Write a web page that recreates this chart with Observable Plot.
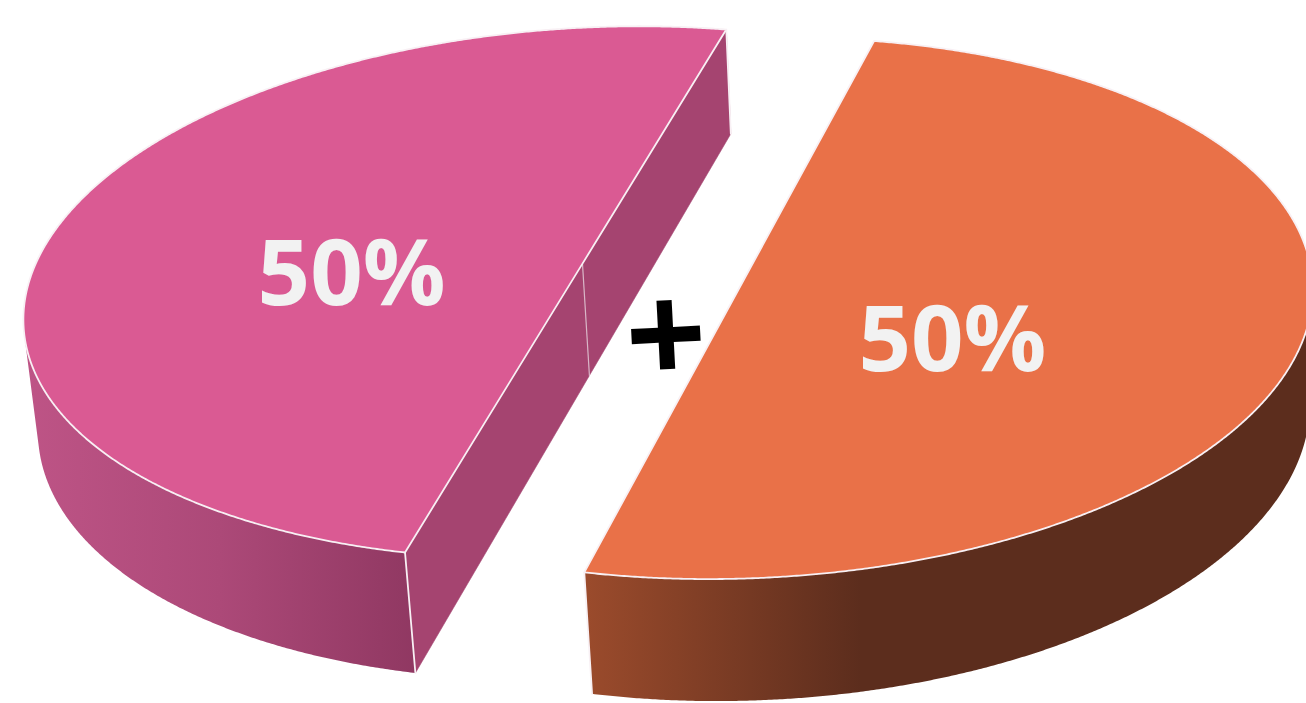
<!DOCTYPE html>
<html>
<head>
<meta charset="utf-8">
<script src="https://cdn.jsdelivr.net/npm/d3@7"></script>
<script src="https://cdn.jsdelivr.net/npm/@observablehq/plot@0.6"></script>
<style>
  html, body { margin: 0; padding: 0; background: #ffffff; overflow: hidden; }
  #chart svg { display: block; }
</style>
</head>
<body>
<div id="chart"></div>
<script>
// ---------- data ----------
const categories = ["A", "B"];
const values = [50, 50];
const valueLabels = ["50%", "50%"];
const joinSymbol = "+";

// ---------- styles ----------
const palette = {
  top: ["#DA5A93", "#E97148"],
  cut: ["#A54470", "#7A3A22"],
  wall: [
    [[0, "#BE5486"], [0.5, "#AC4978"], [1, "#903862"]],
    [[0, "#9B4B2C"], [0.38, "#5C2D1D"], [1, "#5C2D1D"]]
  ],
  edge: "#F8F0F4",
  centerEdge: "#D9B6C7",
  label: "#F2F2F2",
  symbol: "#000000"
};

// ---------- 3D view ----------
const W = 1306, H = 703;
const camera = { elevation: 28.0, distance: 8.05, focal: 4484, roll: 3.0, target: [0, 0.044, 0], principal: [662, 259] };
const pie = { startAngle: 72.9, thickness: 0.231, explode: 0.1505, step: 0.25 };
const labelLayout = { radius: [0.415, 0.44], angle: [180, -37.7], fontSize: 92 };

const rad = Math.PI / 180;
const ce = Math.cos(camera.elevation * rad), se = Math.sin(camera.elevation * rad);
const cr = Math.cos(camera.roll * rad), sr = Math.sin(camera.roll * rad);
const camPos = [camera.target[0], camera.target[1] - camera.distance * ce, camera.target[2] + camera.distance * se];

function project([X, Y, Z]) {
  const xr = X - camera.target[0], yr = Y - camera.target[1], zr = Z - camera.target[2];
  const zc = yr * ce - zr * se + camera.distance;
  const u = xr / zc, v = (yr * se + zr * ce) / zc;
  return [u * cr - v * sr, u * sr + v * cr];
}

// slices from the values
const total = d3.sum(values);
let acc = 0;
const slices = values.map((v, i) => {
  const a0 = pie.startAngle + (acc / total) * 360;
  acc += v;
  const a1 = pie.startAngle + (acc / total) * 360;
  const mid = (a0 + a1) / 2;
  return { i, a0, a1, mid, cx: pie.explode * Math.cos(mid * rad), cy: pie.explode * Math.sin(mid * rad) };
});

const T = pie.thickness;
const rim = (s, a, z) => [s.cx + Math.cos(a * rad), s.cy + Math.sin(a * rad), z];
const ctr = (s, z) => [s.cx, s.cy, z];
const facing = (P, n) => n[0] * (camPos[0] - P[0]) + n[1] * (camPos[1] - P[1]) + n[2] * (camPos[2] - P[2]) > 0;
const toRow = (id, P) => { const [x, y] = project(P); return { id, x, y }; };

const wallRows = [[], []], cutRows = [[], []], topRows = [[], []], edgeRows = [], centerRows = [];

slices.forEach(s => {
  const n = Math.max(2, Math.round((s.a1 - s.a0) / pie.step));
  const angles = d3.range(n + 1).map(k => s.a0 + (s.a1 - s.a0) * k / n);
  // top face
  topRows[s.i].push(toRow("top" + s.i, ctr(s, 0)));
  angles.forEach(a => topRows[s.i].push(toRow("top" + s.i, rim(s, a, 0))));
  // outer wall: front-facing runs
  const runs = [];
  let cur = null;
  angles.forEach(a => {
    const ok = facing(rim(s, a, 0), [Math.cos(a * rad), Math.sin(a * rad), 0]);
    if (ok) { if (!cur) { cur = []; runs.push(cur); } cur.push(a); } else cur = null;
  });
  runs.forEach((run, r) => {
    const id = "wall" + s.i + "-" + r;
    run.forEach(a => wallRows[s.i].push(toRow(id, rim(s, a, 0))));
    run.slice().reverse().forEach(a => wallRows[s.i].push(toRow(id, rim(s, a, -T))));
  });
  // radial (cut) faces
  let anyCut = false;
  [[s.a0, s.a0 - 90], [s.a1, s.a1 + 90]].forEach(([a, na], k) => {
    const nrm = [Math.cos(na * rad), Math.sin(na * rad), 0];
    const midP = [s.cx + 0.5 * Math.cos(a * rad), s.cy + 0.5 * Math.sin(a * rad), -T / 2];
    const vis = facing(midP, nrm);
    const wallVis = facing(rim(s, a, 0), [Math.cos(a * rad), Math.sin(a * rad), 0]);
    if (vis) {
      anyCut = true;
      const id = "cut" + s.i + "-" + k;
      [ctr(s, 0), rim(s, a, 0), rim(s, a, -T), ctr(s, -T)].forEach(P => cutRows[s.i].push(toRow(id, P)));
    }
    if (vis || wallVis) {
      const id = "edge" + s.i + "-" + k;
      edgeRows.push(toRow(id, rim(s, a, 0)), toRow(id, rim(s, a, -T)));
    }
  });
  if (anyCut) {
    centerRows.push(toRow("center" + s.i, ctr(s, 0)), toRow("center" + s.i, ctr(s, -T)));
  }
});

const labelRows = slices.map(s => {
  const a = labelLayout.angle[s.i], r = labelLayout.radius[s.i];
  const [x, y] = project([s.cx + r * Math.cos(a * rad), s.cy + r * Math.sin(a * rad), 0]);
  return { x, y, text: valueLabels[s.i], category: categories[s.i] };
});
const [sx, sy] = project([0, 0, -T / 2]);
const symbolRows = [{ x: sx, y: sy, text: joinSymbol }];

const f = camera.focal, P0 = camera.principal;
const marks = [];
slices.forEach(s => {
  marks.push(Plot.line(wallRows[s.i], { x: "x", y: "y", z: "id", fill: `url(#wallGrad${s.i})`, stroke: "none", curve: "linear-closed" }));
  if (cutRows[s.i].length)
    marks.push(Plot.line(cutRows[s.i], { x: "x", y: "y", z: "id", fill: palette.cut[s.i], stroke: palette.cut[s.i], strokeWidth: 0.6, curve: "linear-closed" }));
});
marks.push(Plot.line(centerRows, { x: "x", y: "y", z: "id", stroke: palette.centerEdge, strokeWidth: 1.2 }));
marks.push(Plot.line(edgeRows, { x: "x", y: "y", z: "id", stroke: palette.edge, strokeWidth: 1.8 }));
slices.forEach(s => {
  marks.push(Plot.line(topRows[s.i], { x: "x", y: "y", z: "id", fill: palette.top[s.i], stroke: palette.edge, strokeWidth: 1.8, strokeLinejoin: "round", curve: "linear-closed" }));
});
marks.push(Plot.text(labelRows, { x: "x", y: "y", text: "text", fontSize: labelLayout.fontSize, fontWeight: 700, fontFamily: "'Open Sans', 'Noto Sans', sans-serif", fill: palette.label, lineAnchor: "middle", textAnchor: "middle" }));
marks.push(Plot.text(symbolRows, { x: "x", y: "y", text: "text", fontSize: 142, fontWeight: 700, fontFamily: "'Open Sans', 'Noto Sans', sans-serif", fill: palette.symbol, lineAnchor: "middle", textAnchor: "middle", rotate: -3, dy: 12 }));

const chart = Plot.plot({
  width: W, height: H, margin: 0,
  x: { domain: [-P0[0] / f, (W - P0[0]) / f], range: [0, W], axis: null },
  y: { domain: [(P0[1] - H) / f, P0[1] / f], range: [H, 0], axis: null },
  style: { background: "#ffffff" },
  marks
});

// gradients for the outer walls (horizontal, in pixel space from the x scale)
const xs = chart.scale("x");
const ns = "http://www.w3.org/2000/svg";
const defs = document.createElementNS(ns, "defs");
slices.forEach(s => {
  const ext = d3.extent(wallRows[s.i], d => xs.apply(d.x));
  const g = document.createElementNS(ns, "linearGradient");
  g.setAttribute("id", "wallGrad" + s.i);
  g.setAttribute("gradientUnits", "userSpaceOnUse");
  g.setAttribute("x1", ext[0]); g.setAttribute("x2", ext[1]);
  g.setAttribute("y1", 0); g.setAttribute("y2", 0);
  palette.wall[s.i].forEach(([o, c]) => {
    const st = document.createElementNS(ns, "stop");
    st.setAttribute("offset", o); st.setAttribute("stop-color", c);
    g.appendChild(st);
  });
  defs.appendChild(g);
});
chart.insertBefore(defs, chart.firstChild);
document.getElementById("chart").appendChild(chart);
</script>
</body>
</html>
